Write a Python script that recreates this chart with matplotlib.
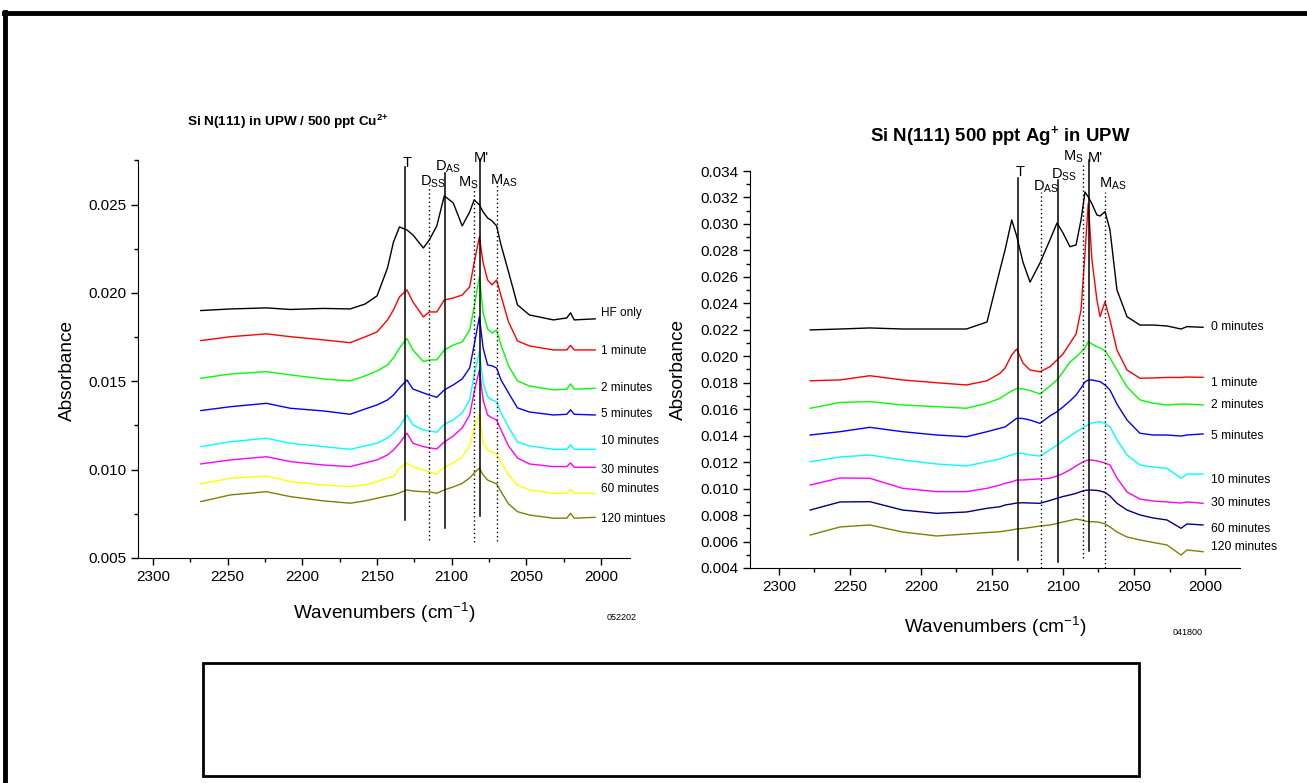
import numpy as np
import matplotlib.pyplot as plt
from matplotlib.lines import Line2D
from matplotlib.patches import Rectangle

plt.rcParams['font.family'] = ['Liberation Sans', 'DejaVu Sans']
plt.rcParams['mathtext.fontset'] = 'custom'
plt.rcParams['mathtext.rm'] = 'Liberation Sans'
plt.rcParams['mathtext.bf'] = 'Liberation Sans:bold'
plt.rcParams['mathtext.default'] = 'regular'

# ---------------- left panel: Cu2+ (absorbance in units of 1e-3) ----------------
wn_cu = [2268, 2248, 2224, 2208, 2186, 2168, 2158, 2150, 2143, 2139, 2135, 2130, 2126,
         2119, 2115, 2110, 2105, 2099, 2093, 2088, 2085, 2081.5, 2079, 2076, 2073, 2070,
         2067, 2062, 2056, 2048, 2032, 2023, 2020.5, 2018, 2004]
cu_hf = [19.00, 19.09, 19.15, 19.06, 19.12, 19.09, 19.37, 19.83, 21.41, 22.88, 23.73, 23.56, 23.28,
         22.54, 23.00, 23.79, 25.49, 25.09, 23.79, 24.58, 25.26, 24.98, 24.58, 24.24, 24.07, 23.79,
         22.71, 21.19, 19.32, 18.75, 18.47, 18.58, 18.87, 18.47, 18.53]
cu_1 = [17.30, 17.52, 17.68, 17.52, 17.34, 17.18, 17.51, 17.79, 18.47, 19.04, 19.77, 20.17, 19.49,
        18.64, 18.92, 18.92, 19.60, 19.71, 19.88, 20.34, 21.70, 23.17, 21.70, 20.73, 20.45, 20.73,
        19.83, 18.36, 17.28, 17.00, 16.77, 16.77, 17.03, 16.77, 16.77]
cu_2 = [15.17, 15.41, 15.54, 15.36, 15.13, 15.02, 15.30, 15.58, 15.92, 16.32, 16.88, 17.42, 16.77,
        16.11, 16.21, 16.21, 16.77, 17.05, 17.22, 17.90, 19.20, 20.90, 18.87, 17.96, 17.73, 17.90,
        17.05, 15.87, 15.02, 14.73, 14.51, 14.55, 14.85, 14.55, 14.60]
cu_5 = [13.34, 13.56, 13.75, 13.47, 13.32, 13.13, 13.43, 13.66, 13.94, 14.22, 14.62, 15.07, 14.56,
        14.34, 14.22, 14.09, 14.51, 14.79, 15.13, 15.75, 17.05, 18.64, 16.88, 15.92, 15.87, 15.75,
        15.07, 14.34, 13.49, 13.26, 13.09, 13.13, 13.38, 13.13, 13.09]
cu_10 = [11.30, 11.58, 11.77, 11.49, 11.30, 11.15, 11.34, 11.49, 11.79, 12.07, 12.43, 13.09, 12.53,
         12.24, 12.19, 12.11, 12.57, 12.81, 13.21, 13.94, 15.36, 16.66, 14.90, 14.13, 13.94, 13.83,
         13.21, 12.41, 11.56, 11.34, 11.15, 11.15, 11.40, 11.15, 11.15]
cu_30 = [10.32, 10.55, 10.73, 10.45, 10.26, 10.17, 10.38, 10.55, 10.83, 11.11, 11.49, 12.06, 11.49,
         11.30, 11.23, 11.17, 11.56, 11.90, 12.36, 13.09, 14.39, 15.64, 13.94, 13.09, 12.92, 12.81,
         12.24, 11.34, 10.66, 10.32, 10.17, 10.17, 10.38, 10.13, 10.13]
cu_60 = [9.19, 9.51, 9.64, 9.32, 9.13, 9.04, 9.13, 9.32, 9.53, 9.60, 10.09, 10.36, 10.15,
         9.98, 9.87, 9.75, 10.13, 10.38, 10.72, 11.34, 12.36, 13.09, 11.51, 11.11, 11.00, 10.89,
         10.43, 9.70, 9.13, 8.85, 8.66, 8.66, 8.89, 8.66, 8.66]
cu_120 = [8.19, 8.57, 8.75, 8.47, 8.23, 8.10, 8.23, 8.38, 8.51, 8.57, 8.68, 8.85, 8.79,
          8.75, 8.74, 8.66, 8.85, 9.02, 9.22, 9.53, 9.81, 10.08, 9.70, 9.41, 9.30, 9.19,
          8.75, 8.06, 7.62, 7.43, 7.25, 7.25, 7.53, 7.25, 7.30]
cu_series = [cu_hf, cu_1, cu_2, cu_5, cu_10, cu_30, cu_60, cu_120]
cu_labels = ["HF only", "1 minute", "2 minutes", "5 minutes", "10 minutes",
             "30 minutes", "60 minutes", "120 mintues"]
cu_label_y = [18.85, 16.73, 14.60, 13.15, 11.62, 9.98, 8.90, 7.19]
cu_colors = ["#000000", "#FF0000", "#00FF00", "#0000FF", "#00FFFF", "#FF00FF", "#FFFF00", "#808000"]

# ---------------- right panel: Ag+ ----------------
wn_ag = [2278, 2257, 2236, 2213, 2189, 2168, 2153.5, 2144.4, 2140.8, 2136.1, 2132.6, 2128.2, 2123.2,
         2116.2, 2109.2, 2104.2, 2100, 2095.1, 2090.8, 2087.3, 2084.5, 2082.2, 2079.6, 2076.1, 2073.9,
         2070.4, 2066.9, 2062, 2054.9, 2045.8, 2036.6, 2026.8, 2016.9, 2012.7, 2001.4]
ag_0 = [21.99, 22.06, 22.14, 22.06, 22.06, 22.06, 22.59, 26.52, 28.03, 30.30, 29.09, 27.12, 25.60,
        27.05, 28.79, 30.07, 29.32, 28.28, 28.41, 30.30, 32.41, 32.04, 31.51, 30.68, 30.60,
        30.93, 29.54, 25.01, 22.99, 22.36, 22.36, 22.29, 22.06, 22.24, 22.19]
ag_1 = [18.15, 18.21, 18.53, 18.21, 18.00, 17.83, 18.15, 18.71, 19.11, 20.10, 20.55, 19.49, 18.96,
        18.83, 19.21, 19.72, 20.17, 20.98, 21.68, 23.50, 27.80, 31.56, 27.28, 24.25, 22.99,
        24.12, 22.74, 20.47, 18.96, 18.34, 18.36, 18.40, 18.40, 18.43, 18.41]
ag_2 = [16.07, 16.51, 16.57, 16.32, 16.19, 16.07, 16.45, 16.82, 17.07, 17.38, 17.56, 17.53, 17.41,
        17.15, 17.75, 18.21, 18.81, 19.57, 19.94, 20.32, 20.63, 21.10, 20.93, 20.72, 20.63,
        20.40, 19.87, 18.96, 17.68, 16.70, 16.45, 16.32, 16.39, 16.39, 16.32]
ag_5 = [14.05, 14.30, 14.63, 14.30, 14.05, 13.92, 14.30, 14.56, 14.66, 15.03, 15.31, 15.30, 15.18,
        14.93, 15.49, 15.81, 16.17, 16.62, 17.07, 17.60, 18.06, 18.21, 18.21, 18.13, 18.08,
        17.83, 17.45, 16.39, 15.18, 14.18, 14.05, 14.05, 13.97, 14.05, 14.13]
ag_10 = [12.03, 12.39, 12.54, 12.16, 11.86, 11.71, 12.03, 12.24, 12.39, 12.54, 12.67, 12.66, 12.54,
         12.46, 12.92, 13.29, 13.60, 13.97, 14.28, 14.50, 14.73, 14.81, 14.96, 15.03, 15.06,
         14.92, 14.68, 13.67, 12.54, 11.78, 11.63, 11.53, 10.78, 11.10, 11.10]
ag_30 = [10.27, 10.80, 10.78, 10.02, 9.77, 9.77, 10.02, 10.27, 10.40, 10.50, 10.65, 10.65, 10.69,
         10.73, 10.78, 10.95, 11.14, 11.41, 11.71, 11.93, 12.09, 12.16, 12.16, 12.09, 12.03,
         11.93, 11.78, 10.80, 9.74, 9.21, 9.06, 8.99, 8.91, 8.99, 8.89]
ag_60 = [8.38, 8.99, 9.01, 8.38, 8.13, 8.23, 8.51, 8.63, 8.76, 8.84, 8.91, 8.93, 8.91,
         8.89, 9.10, 9.27, 9.40, 9.52, 9.64, 9.78, 9.86, 9.89, 9.89, 9.86, 9.82,
         9.71, 9.44, 8.89, 8.38, 8.01, 7.78, 7.63, 7.00, 7.33, 7.25]
ag_120 = [6.49, 7.10, 7.25, 6.72, 6.42, 6.57, 6.68, 6.74, 6.80, 6.87, 6.95, 6.99, 7.06,
          7.17, 7.25, 7.36, 7.48, 7.59, 7.70, 7.63, 7.55, 7.50, 7.50, 7.48, 7.44,
          7.33, 7.10, 6.72, 6.34, 6.12, 5.93, 5.74, 4.98, 5.36, 5.23]
ag_series = [ag_0, ag_1, ag_2, ag_5, ag_10, ag_30, ag_60, ag_120]
ag_labels = ["0 minutes", "1 minute", "2 minutes", "5 minutes", "10 minutes",
             "30 minutes", "60 minutes", "120 minutes"]
ag_label_y = [22.24, 18.00, 16.32, 13.98, 10.65, 8.93, 6.95, 5.61]
ag_colors = ["#000000", "#FF0000", "#00FF00", "#0000FF", "#00FFFF", "#FF00FF", "#000080", "#808000"]

# peak assignment lines: (label, position, top, bottom, solid?)
cu_marks = [("T", 2131, 27.1, 7.15, True), ("D$_{SS}$", 2115, 26.1, 6.0, False),
            ("D$_{AS}$", 2104.5, 26.8, 6.7, True), ("M$_{S}$", 2085, 26.1, 5.9, False),
            ("M'", 2081.3, 27.6, 7.4, True), ("M$_{AS}$", 2070, 26.1, 5.95, False)]
cu_mark_txt = [(2130, 27.15), (2112.5, 26.05), (2102.5, 26.9), (2089, 26.0), (2080.5, 27.4), (2065.5, 26.1)]
ag_marks = [("T", 2131.5, 33.5, 4.6, True), ("D$_{AS}$", 2115.7, 32.4, 4.0, False),
            ("D$_{SS}$", 2103.5, 33.3, 4.45, True), ("M$_{S}$", 2085.7, 34.45, 4.76, False),
            ("M'", 2081.5, 34.8, 5.28, True), ("M$_{AS}$", 2070.2, 32.4, 4.0, False)]
ag_mark_txt = [(2130.3, 33.65), (2112, 32.55), (2099.5, 33.4), (2092.5, 34.8), (2077, 34.65), (2065, 32.75)]


def panel(ax, wn, series, colors, labels, label_y, label_x, label_fs, marks, mark_txt):
    for s, c in zip(series, colors):
        ax.plot(wn, np.array(s) / 1000, color=c, lw=1)
    for lab, ly in zip(labels, label_y):
        ax.text(label_x, ly / 1000, lab, fontsize=label_fs, va="center", ha="left")
    for (lab, pos, top, bot, solid), (tx, ty) in zip(marks, mark_txt):
        ax.plot([pos, pos], [bot / 1000, top / 1000], color="k",
                lw=1.1 if solid else 1.0, ls="-" if solid else (0, (1, 2)), clip_on=False)
        ax.text(tx, ty / 1000, lab, fontsize=10.5, ha="center", va="baseline")
    ax.spines["top"].set_visible(False)
    ax.spines["right"].set_visible(False)
    ax.tick_params(direction="out", length=5, width=1, labelsize=11)
    ax.tick_params(which="minor", direction="out", length=3, width=1)
    ax.set_xticks([2300, 2250, 2200, 2150, 2100, 2050, 2000])
    ax.set_xticks(np.arange(2325, 1970, -25), minor=True)
    ax.set_ylabel("Absorbance", fontsize=13.7)
    ax.set_xlabel("Wavenumbers (cm$^{-1}$)", fontsize=13.7)


fig = plt.figure(figsize=(13.07, 7.83), dpi=100)

ax1 = fig.add_axes([0.1056, 0.2874, 0.3764, 0.5083])
panel(ax1, wn_cu, cu_series, cu_colors, cu_labels, cu_label_y, 2000, 8.5, cu_marks, cu_mark_txt)
ax1.set_xlim(2310, 1980.7)
ax1.set_ylim(0.005, 0.02752)
ax1.set_yticks([0.005, 0.010, 0.015, 0.020, 0.025])
ax1.set_yticks(np.arange(0.0075, 0.0276, 0.005), minor=True)
ax1.set_yticklabels(["0.005", "0.010", "0.015", "0.020", "0.025"])
ax1.yaxis.set_label_coords(-0.126, 0.47)
ax1.xaxis.set_label_coords(0.50, -0.108)

ax2 = fig.add_axes([0.5738, 0.2746, 0.3749, 0.5070])
panel(ax2, wn_ag, ag_series, ag_colors, ag_labels, ag_label_y, 1996, 8.7, ag_marks, ag_mark_txt)
ax2.set_xlim(2320.4, 1975.4)
ax2.set_ylim(0.004, 0.034)
yt = np.arange(0.004, 0.0341, 0.002)
ax2.set_yticks(yt)
ax2.set_yticklabels(["%.3f" % v for v in yt])
ax2.set_yticks(np.arange(0.005, 0.034, 0.002), minor=True)
ax2.yaxis.set_label_coords(-0.128, 0.5)
ax2.xaxis.set_label_coords(0.50, -0.118)

fig.text(0.2204, 0.844, r"Si N(111) in UPW / 500 ppt Cu$^{\mathbf{2{+}}}$", fontsize=9.7,
         fontweight="bold", ha="center", va="center")
fig.text(0.7651, 0.826, r"Si N(111) 500 ppt Ag$^{\mathbf{{+}}}$ in UPW", fontsize=13.4,
         fontweight="bold", ha="center", va="center")
fig.text(0.4759, 0.211, "052202", fontsize=6.5, ha="center", va="center")
fig.text(0.9089, 0.192, "041800", fontsize=6.5, ha="center", va="center")

# page frame and empty caption box
fig.add_artist(Line2D([0.003, 1.0], [0.983, 0.983], color="k", lw=3.5, transform=fig.transFigure))
fig.add_artist(Line2D([0.0042, 0.0042], [0.0, 0.985], color="k", lw=3.5, transform=fig.transFigure))
fig.add_artist(Rectangle((0.1553, 0.009), 0.7162, 0.144, fill=False, ec="k", lw=2,
                         transform=fig.transFigure))

plt.savefig("out.png", dpi=100)
